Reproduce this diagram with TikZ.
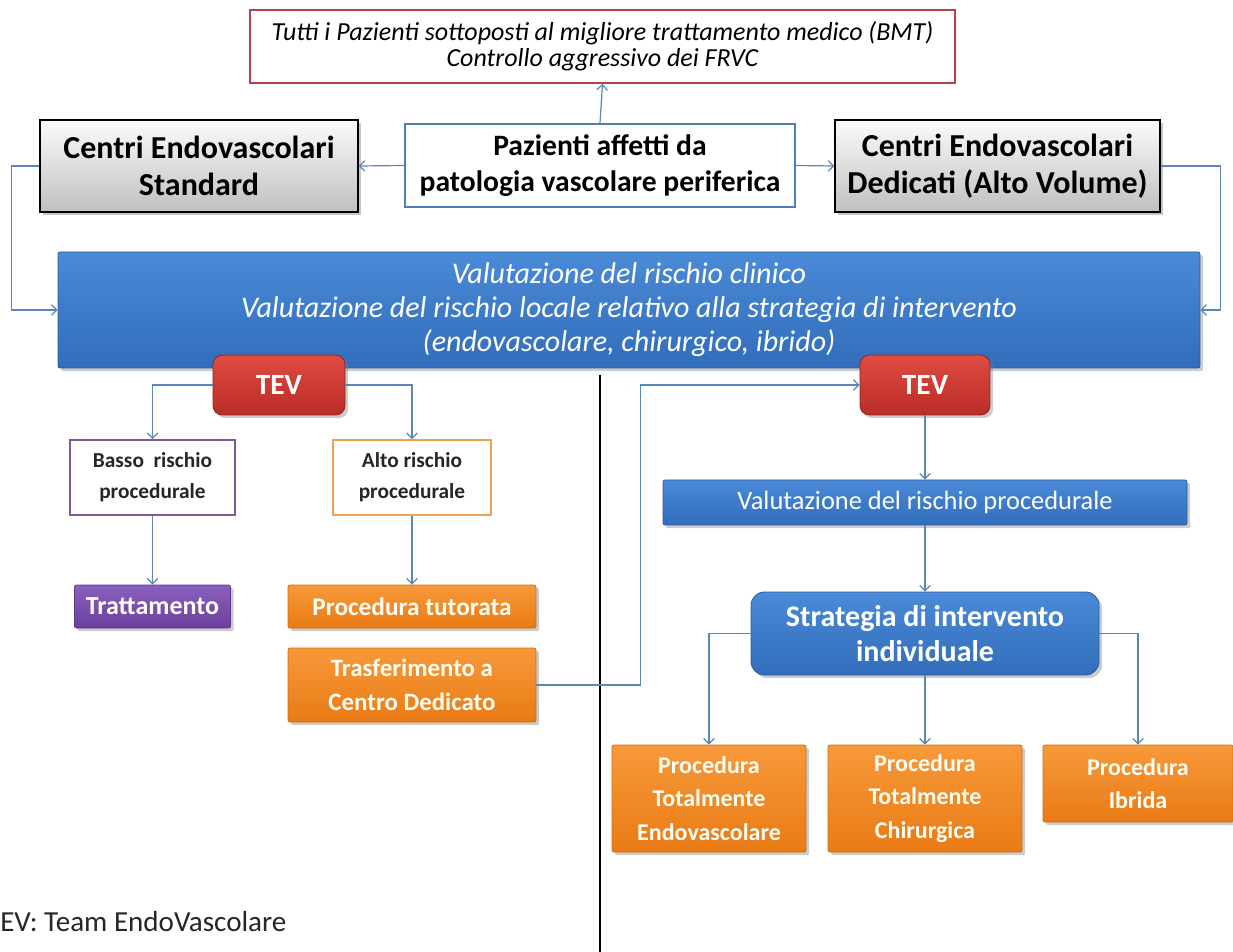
\documentclass[tikz,border=0pt]{standalone}
\usepackage{fontspec}
\setmainfont{Carlito}
\usetikzlibrary{arrows.meta,shadows}
\definecolor{conn}{HTML}{5B86BA}
\definecolor{blueT}{HTML}{4A8AD6}
\definecolor{blueB}{HTML}{316DBB}
\definecolor{blueD}{HTML}{2A5C9E}
\definecolor{redT}{HTML}{DE4C42}
\definecolor{redB}{HTML}{BA2C27}
\definecolor{oraT}{HTML}{F7993A}
\definecolor{oraB}{HTML}{E97B14}
\definecolor{purT}{HTML}{8A5FBE}
\definecolor{purB}{HTML}{6B3F9E}
\definecolor{bmtred}{HTML}{B5424A}
\definecolor{patblue}{HTML}{4F7FBA}
\definecolor{purbord}{HTML}{7A5A9A}
\definecolor{orabord}{HTML}{F0A050}
\tikzset{
  conn/.style={draw=conn, line width=0.9pt, -{Straight Barb[length=4pt,width=8pt]}},
  base/.style={align=center, inner sep=2pt},
  whitebox/.style={base, draw, fill=white, line width=1.3pt},
  graybox/.style={base, draw=black, line width=1pt, top color=gray!3, bottom color=gray!50, drop shadow={opacity=0.45}, font=\fontsize{24}{28}\selectfont\bfseries},
  bluebox/.style={base, draw=blueD, line width=0.6pt, top color=blueT, bottom color=blueB, text=white, rounded corners=1.5pt, drop shadow={opacity=0.4}},
  redbox/.style={base, draw=redB!80!black, line width=0.6pt, top color=redT, bottom color=redB, text=white, rounded corners=7pt, drop shadow={opacity=0.4}, font=\fontsize{22}{26}\selectfont\bfseries},
  orabox/.style={base, draw=oraB!90!black, line width=0.6pt, top color=oraT, bottom color=oraB, text=white!96!yellow, rounded corners=1.5pt, drop shadow={opacity=0.4}},
  purbox/.style={base, draw=purB!90!black, line width=0.6pt, top color=purT, bottom color=purB, text=white, rounded corners=1.5pt, drop shadow={opacity=0.4}},
}
\begin{document}
\begin{tikzpicture}[x=0.75pt,y=-0.75pt]
\useasboundingbox (0,0) rectangle (1233,952);

% top nodes
\node[whitebox, draw=bmtred, minimum width=528.75pt, minimum height=54.75pt, font=\fontsize{19.5}{19.5}\selectfont\itshape] (bmt) at (602.5,46.5)
  {Tutti i Pazienti sottoposti al migliore trattamento medico (BMT)\\Controllo aggressivo dei FRVC};
\node[whitebox, draw=patblue, minimum width=292.5pt, minimum height=62.25pt, font=\fontsize{22.2}{27}\selectfont\bfseries] (pat) at (600,165.5)
  {Pazienti affetti da\\patologia vascolare periferica};
\node[graybox, minimum width=238.5pt, minimum height=69pt] (gl) at (199,166)
  {Centri Endovascolari\\Standard};
\node[graybox, minimum width=243.75pt, minimum height=69pt] (gr) at (997.5,166)
  {Centri Endovascolari\\Dedicati (Alto Volume)};

% main box
\node[bluebox, minimum width=856.5pt, minimum height=87pt, font=\fontsize{22.5}{25.5}\selectfont\itshape] (main) at (629,310)
  {Valutazione del rischio clinico\\Valutazione del rischio locale relativo alla strategia di intervento\\(endovascolare, chirurgico, ibrido)};

% separator
\coordinate (vt) at (600,375);
\coordinate (vb) at (600,952);
\draw[black, line width=1.1pt] (vt) -- (vb);

% left branch
\node[redbox, minimum width=99pt, minimum height=45pt] (tevL) at (279,385) {TEV};
\node[whitebox, draw=purbord, minimum width=123.75pt, minimum height=56.25pt, font=\fontsize{16}{23}\selectfont\bfseries, text=black!85] (basso) at (152.5,477.5)
  {Basso\ \ rischio\\procedurale};
\node[whitebox, draw=orabord, minimum width=118.5pt, minimum height=56.25pt, font=\fontsize{16}{23}\selectfont\bfseries, text=black!85] (alto) at (412,477.5)
  {Alto rischio\\procedurale};
\node[purbox, minimum width=117pt, minimum height=32.25pt, font=\fontsize{19.5}{20}\selectfont\bfseries] (tratt) at (152.5,606.5) {Trattamento};
\node[orabox, minimum width=186pt, minimum height=32.25pt, font=\fontsize{19}{20}\selectfont\bfseries] (tut) at (412,606.5) {Procedura tutorata};
\node[orabox, minimum width=186pt, minimum height=55.5pt, font=\fontsize{18.7}{26}\selectfont\bfseries] (trasf) at (412,685) {Trasferimento a\\Centro Dedicato};

% right branch
\node[redbox, minimum width=97.5pt, minimum height=45pt] (tevR) at (925,385) {TEV};
\node[bluebox, minimum width=393pt, minimum height=33.75pt, font=\fontsize{19.8}{22}\selectfont] (valp) at (925,502.5) {Valutazione del rischio procedurale};
\node[bluebox, rounded corners=10pt, minimum width=261pt, minimum height=62.25pt, font=\fontsize{22.5}{26}\selectfont\bfseries] (strat) at (925,633.5)
  {Strategia di intervento\\individuale};
\node[orabox, minimum width=145.5pt, minimum height=80.25pt, font=\fontsize{18}{25}\selectfont\bfseries] (pe) at (709,798.5)
  {Procedura\\Totalmente\\Endovascolare};
\node[orabox, minimum width=145.5pt, minimum height=80.25pt, font=\fontsize{18}{25}\selectfont\bfseries] (pc) at (925,798.5)
  {Procedura\\Totalmente\\Chirurgica};
\node[orabox, minimum width=142.5pt, minimum height=57.75pt, font=\fontsize{18}{25}\selectfont\bfseries] (pi) at (1138,783.5)
  {Procedura\\Ibrida};

% legend
\node[anchor=west, inner sep=0pt, font=\fontsize{21.8}{24}\selectfont, text=black!85] (leg) at (0,922) {EV: Team EndoVascolare};

% connectors
\draw[conn] (pat.north) -- (bmt.south);
\draw[conn] (pat.west) -- (gl.east);
\draw[conn] (pat.east) -- (gr.west);
\draw[conn] (gl.west) -- ++(-28,0) |- (main.west);
\draw[conn] (gr.east) -- ++(60,0) |- (main.east);
\draw[conn] (tevL.west) -| (basso.north);
\draw[conn] (tevL.east) -| (alto.north);
\draw[conn] (basso.south) -- (tratt.north);
\draw[conn] (alto.south) -- (tut.north);
\draw[conn] (trasf.east) -- ++(104,0) |- (tevR.west);
\draw[conn] (tevR.south) -- (valp.north);
\draw[conn] (valp.south) -- (strat.north);
\draw[conn] (strat.west) -| (pe.north);
\draw[conn] (strat.south) -- (pc.north);
\draw[conn] (strat.east) -| (pi.north);
\end{tikzpicture}
\end{document}
